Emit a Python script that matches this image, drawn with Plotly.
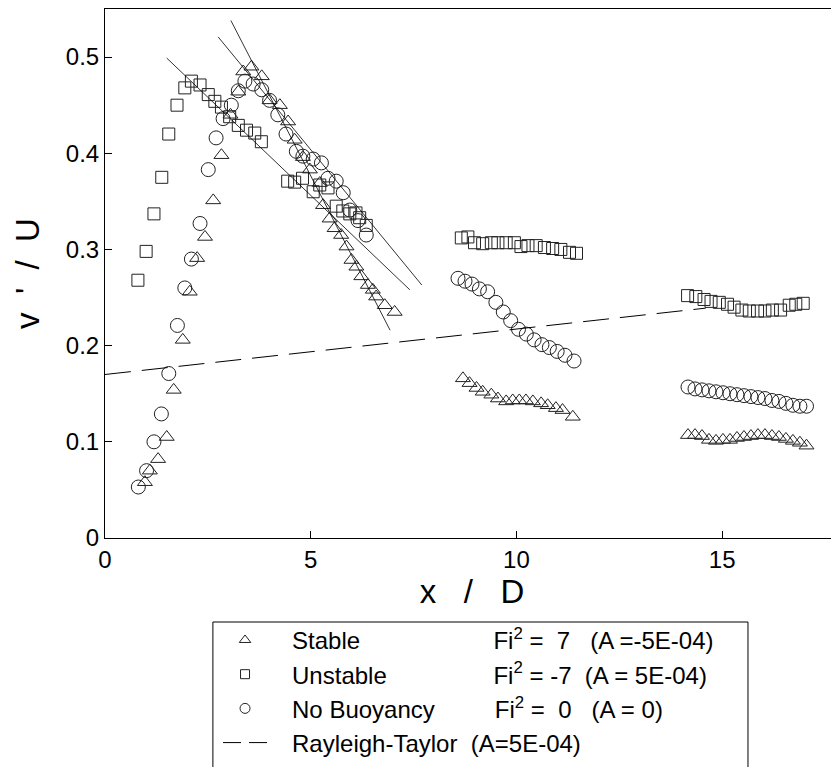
import plotly.graph_objects as go

# ---------------- data ----------------
stable_x = [0.97, 1.09, 1.29, 1.50, 1.67, 1.89, 2.06, 2.24, 2.43, 2.63, 2.83, 3.05, 3.24, 3.36, 3.56, 3.81,
            4.00, 4.25, 4.45, 4.61, 4.81, 4.98, 5.22, 5.30, 5.46, 5.58, 5.74, 5.87, 5.99, 6.11, 6.23, 6.39,
            6.51, 6.59, 6.80, 7.04,
            8.70, 8.86, 9.03, 9.18, 9.39, 9.55, 9.75, 9.91, 10.07, 10.23, 10.40, 10.60, 10.76, 10.96, 11.12, 11.37,
            14.17, 14.34, 14.51, 14.68, 14.85, 15.02, 15.19, 15.36, 15.53, 15.70, 15.87, 16.04, 16.21, 16.38,
            16.55, 16.72, 16.89, 17.05]
stable_y = [0.058, 0.070, 0.082, 0.105, 0.154, 0.206, 0.256, 0.291, 0.313, 0.351, 0.398, 0.440, 0.464, 0.485, 0.490, 0.480,
            0.455, 0.450, 0.433, 0.414, 0.396, 0.383, 0.369, 0.346, 0.332, 0.322, 0.315, 0.303, 0.289, 0.282, 0.272, 0.263,
            0.258, 0.251, 0.242, 0.235,
            0.166, 0.161, 0.156, 0.152, 0.149, 0.145, 0.142, 0.143, 0.143, 0.143, 0.142, 0.140, 0.138, 0.135, 0.133, 0.126,
            0.107, 0.107, 0.106, 0.102, 0.101, 0.102, 0.102, 0.104, 0.105, 0.106, 0.107, 0.107, 0.106, 0.105,
            0.103, 0.101, 0.099, 0.096]

unstable_x = [0.80, 1.00, 1.19, 1.38, 1.55, 1.75, 1.94, 2.10, 2.31, 2.51, 2.67, 2.83, 3.03, 3.24, 3.44, 3.64, 3.80,
              4.44, 4.61, 4.80, 5.06, 5.22, 5.42, 5.62, 5.78, 5.95, 6.10, 6.19, 6.35,
              8.66, 8.82, 8.98, 9.18, 9.39, 9.55, 9.75, 9.95, 10.11, 10.28, 10.48, 10.68, 10.88, 11.08, 11.29, 11.46,
              14.16, 14.36, 14.56, 14.73, 14.93, 15.13, 15.29, 15.48, 15.66, 15.86, 16.04, 16.22, 16.42, 16.63,
              16.79, 16.97]
unstable_y = [0.268, 0.298, 0.337, 0.375, 0.420, 0.450, 0.468, 0.475, 0.471, 0.461, 0.454, 0.448, 0.438, 0.429, 0.424, 0.421, 0.412,
              0.371, 0.370, 0.374, 0.360, 0.367, 0.364, 0.345, 0.340, 0.337, 0.338, 0.333, 0.325,
              0.312, 0.313, 0.307, 0.306, 0.307, 0.307, 0.307, 0.307, 0.303, 0.304, 0.304, 0.302, 0.301, 0.300, 0.297, 0.296,
              0.252, 0.251, 0.248, 0.246, 0.245, 0.243, 0.240, 0.237, 0.236, 0.236, 0.236, 0.237, 0.237, 0.242,
              0.243, 0.244]

nobuoy_x = [0.81, 1.01, 1.19, 1.37, 1.55, 1.76, 1.94, 2.10, 2.31, 2.51, 2.70, 2.87, 3.07, 3.24, 3.40, 3.60, 3.81,
            4.00, 4.20, 4.40, 4.65, 4.81, 5.06, 5.26, 5.42, 5.62, 5.79, 5.95, 6.15, 6.35,
            8.58, 8.75, 8.92, 9.10, 9.30, 9.50, 9.68, 9.86, 10.05, 10.24, 10.43, 10.62, 10.80, 10.99, 11.18, 11.40,
            14.17, 14.34, 14.51, 14.68, 14.85, 15.02, 15.19, 15.36, 15.53, 15.70, 15.87, 16.04, 16.21, 16.38,
            16.55, 16.72, 16.89, 17.05]
nobuoy_y = [0.053, 0.070, 0.100, 0.129, 0.171, 0.221, 0.260, 0.290, 0.327, 0.383, 0.416, 0.436, 0.450, 0.465, 0.475, 0.472, 0.466,
            0.455, 0.440, 0.420, 0.402, 0.397, 0.394, 0.390, 0.374, 0.371, 0.359, 0.341, 0.330, 0.315,
            0.270, 0.267, 0.264, 0.259, 0.256, 0.245, 0.235, 0.226, 0.217, 0.212, 0.206, 0.201, 0.198, 0.194, 0.190, 0.184,
            0.157, 0.155, 0.154, 0.153, 0.152, 0.151, 0.150, 0.149, 0.148, 0.147, 0.146, 0.145, 0.143, 0.142,
            0.140, 0.138, 0.137, 0.137]

# least-squares fit lines (end points) drawn through the decaying parts
fit_unstable_x = [1.50, 7.41]
fit_unstable_y = [0.499, 0.258]
fit_nobuoy_x = [2.75, 7.70]
fit_nobuoy_y = [0.521, 0.263]
fit_stable_x = [3.06, 6.93]
fit_stable_y = [0.538, 0.216]

# Rayleigh-Taylor growth line
rt_x = [0.0, 14.6]
rt_y = [0.170, 0.239]

x_ticks = [0, 5, 10, 15]
y_ticks = [0, 0.1, 0.2, 0.3, 0.4, 0.5]
y_tick_text = ["0", "0.1", "0.2", "0.3", "0.4", "0.5"]

NB = "\u00a0"
LEAD = NB * 3
legend_names = [
    LEAD + "Stable" + NB * 20 + "Fi<sup>2</sup> =" + NB * 2 + "7" + NB * 3 + "(A =-5E-04)",
    LEAD + "Unstable" + NB * 16 + "Fi<sup>2</sup> = -7" + NB * 2 + "(A = 5E-04)",
    LEAD + "No Buoyancy" + NB * 9 + "Fi<sup>2</sup> =" + NB * 2 + "0" + NB * 3 + "(A = 0)",
    LEAD + "Rayleigh-Taylor" + NB * 2 + "(A=5E-04)",
]
x_title = "x" + NB * 3 + "/" + NB * 3 + "D"
y_title = "v" + NB * 2 + "'" + NB * 2 + "/" + NB * 2 + "U"

FONT = "Liberation Sans, Arial, sans-serif"
MK = "#222222"

fig = go.Figure()

series = [
    ("stable", stable_x, stable_y, "triangle-up-open", 13, 10),
    ("unstable", unstable_x, unstable_y, "square-open", 12, 9),
    ("nobuoy", nobuoy_x, nobuoy_y, "circle-open", 14, 10),
]
for (grp, sx, sy, sym, size, legsize), name in zip(series, legend_names[:3]):
    fig.add_trace(go.Scatter(x=sx, y=sy, mode="markers", name=name, legendgroup=grp, showlegend=False,
                             marker=dict(symbol=sym, size=size, color=MK, line=dict(width=1, color=MK))))
    # legend entry for the same group (smaller symbol, as in the reference legend)
    fig.add_trace(go.Scatter(x=[None], y=[None], mode="markers", name=name, legendgroup=grp, showlegend=True,
                             marker=dict(symbol=sym, size=legsize, color=MK, line=dict(width=1, color=MK))))

fig.add_trace(go.Scatter(x=rt_x, y=rt_y, mode="lines", name=legend_names[3], legendgroup="rt", showlegend=False,
                         line=dict(color="black", width=1, dash="26px,11px")))
fig.add_trace(go.Scatter(x=[None], y=[None], mode="lines", name=legend_names[3], legendgroup="rt",
                         showlegend=True, line=dict(color="black", width=1, dash="18px,8px")))

for fx, fy in [(fit_unstable_x, fit_unstable_y), (fit_nobuoy_x, fit_nobuoy_y), (fit_stable_x, fit_stable_y)]:
    fig.add_trace(go.Scatter(x=fx, y=fy, mode="lines", showlegend=False,
                             line=dict(color="black", width=0.8)))

# the page body has an 8px margin, so the figure is made 8px smaller and margins compensated
fig.update_layout(
    width=831, height=759,
    margin=dict(l=97, r=0, t=1, b=229, autoexpand=False),
    paper_bgcolor="white", plot_bgcolor="white",
    font=dict(family=FONT, size=24, color="black"),
    showlegend=True,
    legend=dict(x=0.154, y=-0.151, xanchor="left", yanchor="top",
                borderwidth=0, bgcolor="rgba(0,0,0,0)",
                font=dict(family=FONT, size=24, color="black"),
                itemwidth=44, tracegroupgap=0),
    shapes=[dict(type="rect", xref="paper", yref="paper", x0=0.147, x1=0.876, y0=-0.1588, y1=-0.5,
                 line=dict(color="black", width=1), fillcolor="rgba(0,0,0,0)", layer="below")],
    xaxis=dict(range=[0, 17.84], tickvals=x_ticks, ticks="inside", ticklen=7, tickcolor="black",
               showline=True, linecolor="black", linewidth=1, mirror=True, showgrid=False, zeroline=False,
               automargin=False,
               tickfont=dict(family=FONT, size=24, color="black"),
               title=dict(text=x_title, font=dict(family=FONT, size=33, color="black"), standoff=8)),
    yaxis=dict(range=[0, 0.55], tickvals=y_ticks, ticktext=y_tick_text, ticks="inside", ticklen=7,
               tickcolor="black", showline=True, linecolor="black", linewidth=1, showgrid=False, zeroline=False,
               automargin=False,
               tickfont=dict(family=FONT, size=24, color="black"),
               title=dict(text=y_title, font=dict(family=FONT, size=33, color="black"), standoff=16)),
)

fig.write_html("out.html")
